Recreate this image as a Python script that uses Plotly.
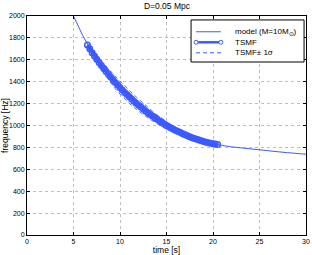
import plotly.graph_objects as go

# model curve
model_t = [4.5, 5, 6, 7, 8, 9, 10, 11, 12, 13, 14, 15, 16, 17, 18, 19, 20, 21, 22, 23, 24, 25, 26, 27, 28, 29, 30]
model_f = [2090, 2000, 1820, 1670, 1545, 1440, 1345, 1260, 1185, 1115, 1055, 1000, 955, 915, 880, 855, 835, 818, 805, 795, 785, 776, 768, 760, 752, 745, 738]

# TSMF estimate
tsmf_t = [6.5, 6.75, 7.0, 7.25, 7.5, 7.75, 8.0, 8.25, 8.5, 8.75, 9.0, 9.25, 9.5, 9.75, 10.0, 10.25,
          10.5, 10.75, 11.0, 11.25, 11.5, 11.75, 12.0, 12.25, 12.5, 12.75, 13.0, 13.25, 13.5, 13.75,
          14.0, 14.25, 14.5, 14.75, 15.0, 15.25, 15.5, 15.75, 16.0, 16.25, 16.5, 16.75, 17.0, 17.25,
          17.5, 17.75, 18.0, 18.25, 18.5, 18.75, 19.0, 19.25, 19.5, 19.75, 20.0, 20.25, 20.5]
tsmf_f = [1735, 1700, 1665, 1635, 1605, 1576, 1548, 1520, 1493, 1467, 1442, 1417, 1392, 1369, 1347, 1324,
          1302, 1282, 1262, 1242, 1222, 1204, 1186, 1168, 1150, 1133, 1117, 1101, 1086, 1071,
          1056, 1042, 1028, 1014, 1001, 989, 977, 966, 955, 945, 935, 925, 916, 907,
          898, 889, 881, 874, 867, 860, 854, 848, 843, 838, 834, 830, 826]

# TSMF +/- 1 sigma
sig_t = [6.5, 7.0, 7.5, 8.0, 8.5, 9.0, 9.5, 10.0, 10.5, 11.0, 11.5, 12.0, 12.5, 13.0, 13.5,
         14.0, 14.5, 15.0, 15.5, 16.0, 16.5, 17.0, 17.5, 18.0, 18.5, 19.0, 19.5, 20.0, 20.5]
sig_up = [1747, 1685, 1633, 1586, 1538, 1494, 1450, 1407, 1362, 1322, 1280, 1241, 1202, 1165, 1130,
          1096, 1064, 1033, 1005, 981, 959, 938, 918, 901, 885, 872, 859, 849, 840]
sig_lo = [1723, 1645, 1577, 1510, 1448, 1390, 1334, 1287, 1242, 1202, 1164, 1131, 1098, 1069, 1042,
          1016, 992, 969, 949, 929, 911, 894, 878, 861, 849, 836, 827, 819, 812]

x_ticks = [0, 5, 10, 15, 20, 25, 30]
y_ticks = [0, 200, 400, 600, 800, 1000, 1200, 1400, 1600, 1800, 2000]
legend_labels = ["model (M=10M<sub>⊙</sub>)", "TSMF", "TSMF± 1σ"]

blue = "rgb(60,90,255)"
font = "Liberation Sans, Arial, sans-serif"

fig = go.Figure()
fig.add_trace(go.Scatter(x=model_t, y=model_f, mode="lines", name=legend_labels[0], showlegend=False,
                         line=dict(color=blue, width=1)))
fig.add_trace(go.Scatter(x=sig_t, y=sig_up, mode="lines", name=legend_labels[2], showlegend=False,
                         line=dict(color=blue, width=0.9, dash="4px,3px")))
fig.add_trace(go.Scatter(x=sig_t, y=sig_lo, mode="lines", name=legend_labels[2], showlegend=False,
                         line=dict(color=blue, width=0.9, dash="4px,3px")))
fig.add_trace(go.Scatter(x=tsmf_t, y=tsmf_f, mode="lines+markers", name=legend_labels[1], showlegend=False,
                         line=dict(color=blue, width=4),
                         marker=dict(symbol="circle-open", size=5.5, color=blue, line=dict(width=1.5))))

# hand-drawn legend box (paper coordinates of the plot area)
shapes = [
    dict(type="rect", xref="paper", yref="paper", x0=0.588, x1=0.993, y0=0.790, y1=0.982,
         line=dict(color="black", width=1), fillcolor="white", layer="above"),
    dict(type="line", xref="paper", yref="paper", x0=0.606, x1=0.695, y0=0.928, y1=0.928,
         line=dict(color=blue, width=1), layer="above"),
    dict(type="line", xref="paper", yref="paper", x0=0.606, x1=0.695, y0=0.880, y1=0.880,
         line=dict(color=blue, width=2.5), layer="above"),
    dict(type="line", xref="paper", yref="paper", x0=0.606, x1=0.695, y0=0.832, y1=0.832,
         line=dict(color=blue, width=1, dash="4px,3px"), layer="above"),
]
for cx in (0.606, 0.695):
    shapes.append(dict(type="circle", xref="paper", yref="paper", xsizemode="pixel", ysizemode="pixel",
                       xanchor=cx, yanchor=0.880, x0=-2, x1=2, y0=-2, y1=2,
                       line=dict(color=blue, width=1), fillcolor="white", layer="above"))
annotations = []
for lab, yy in zip(legend_labels, (0.928, 0.880, 0.832)):
    annotations.append(dict(text=lab, xref="paper", yref="paper", x=0.738, y=yy, xanchor="left",
                            yanchor="middle", showarrow=False,
                            font=dict(size=8, color="black", family=font)))

axis_common = dict(showline=True, linecolor="black", linewidth=1, mirror="ticks",
                   ticks="inside", ticklen=3, tickcolor="black", automargin=False,
                   showgrid=True, gridcolor="rgb(190,190,190)", griddash="dot", gridwidth=1,
                   zeroline=False, tickfont=dict(size=7, color="black", family=font))

fig.update_layout(
    width=312, height=255,
    margin=dict(l=27, r=6, t=16, b=20),
    plot_bgcolor="white", paper_bgcolor="white",
    title=dict(text="D=0.05 Mpc", x=0.535, xanchor="center", y=0.976, yanchor="middle",
               font=dict(size=8.5, color="black", family=font)),
    xaxis=dict(range=[0, 30], tickvals=x_ticks,
               title=dict(text="time [s]", standoff=1, font=dict(size=8.5, color="black", family=font)),
               **axis_common),
    yaxis=dict(range=[0, 2000], tickvals=y_ticks,
               title=dict(text="frequency [Hz]", standoff=1, font=dict(size=8.5, color="black", family=font)),
               **axis_common),
    shapes=shapes,
    annotations=annotations,
    showlegend=False,
)

fig.write_html("out.html", config={"displayModeBar": False},
               post_script="document.body.style.margin='0px';document.body.style.overflow='hidden';")
